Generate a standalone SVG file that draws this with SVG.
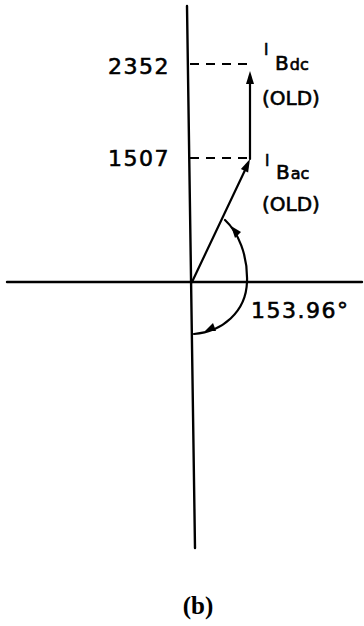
<svg xmlns="http://www.w3.org/2000/svg" width="364" height="626" viewBox="0 0 364 626">
<style>
.ln{stroke:#000;fill:none;stroke-linecap:round}
.ax{stroke-width:2.4}
.ds{stroke-width:2;stroke-dasharray:9 7;stroke-linecap:butt}
.ah{fill:#000;stroke:none}
.t{font-family:"DejaVu Sans","Liberation Sans",sans-serif;fill:#000;stroke:#000;stroke-width:0.6}
.num{font-size:22px;letter-spacing:1.5px}
.lb{font-size:20px}
.sub{font-size:16px}
.cap{font-family:"Liberation Serif",serif;font-weight:bold;font-size:25px;fill:#000}
</style>
<rect width="364" height="626" fill="#fff"/>
<g id="connectors">
  <line id="v-axis" class="ln ax" x1="187" y1="6" x2="195" y2="548"/>
  <line id="h-axis" class="ln ax" x1="7" y1="282" x2="362" y2="282"/>
  <line id="dash-2352" class="ln ds" x1="190" y1="64" x2="249" y2="64"/>
  <line id="dash-1507" class="ln ds" x1="190" y1="158" x2="250" y2="158"/>
  <line id="phasor-ac" class="ln" stroke-width="2.2" x1="192" y1="282" x2="247" y2="166"/>
  <polygon class="ah" points="250,159 248.1,172.5 240.9,169.1"/>
  <line id="phasor-dc" class="ln" stroke-width="2.2" x1="250" y1="159" x2="250" y2="80"/>
  <polygon class="ah" points="250,71 254,84 246,84"/>
  <path id="angle-arc" class="ln" stroke-width="2.2" d="M 225 220 C 238 232, 248 255, 247 282 C 246 312, 222 332, 194 334"/>
  <polygon class="ah" points="231,226 241,232 235,238"/>
  <polygon class="ah" points="205,331 213,323 216,331"/>
</g>
<g id="label-2352"><text class="t num" x="170" y="74" text-anchor="end">2352</text></g>
<g id="label-1507"><text class="t num" x="170" y="166" text-anchor="end">1507</text></g>
<g id="label-Bdc">
  <text class="t" x="264" y="55" font-size="15">I</text>
  <text class="t lb" x="275" y="70">B<tspan class="sub" dx="1">dc</tspan></text>
  <text class="t lb" x="262" y="105">(OLD)</text>
</g>
<g id="label-Bac">
  <text class="t" x="265" y="166" font-size="15">I</text>
  <text class="t lb" x="276" y="179">B<tspan class="sub" dx="1">ac</tspan></text>
  <text class="t lb" x="262" y="211">(OLD)</text>
</g>
<g id="label-angle"><text class="t num" x="251" y="318" font-size="21">153.96°</text></g>
<g id="caption"><text class="cap" x="198" y="614" text-anchor="middle">(b)</text></g>
</svg>
